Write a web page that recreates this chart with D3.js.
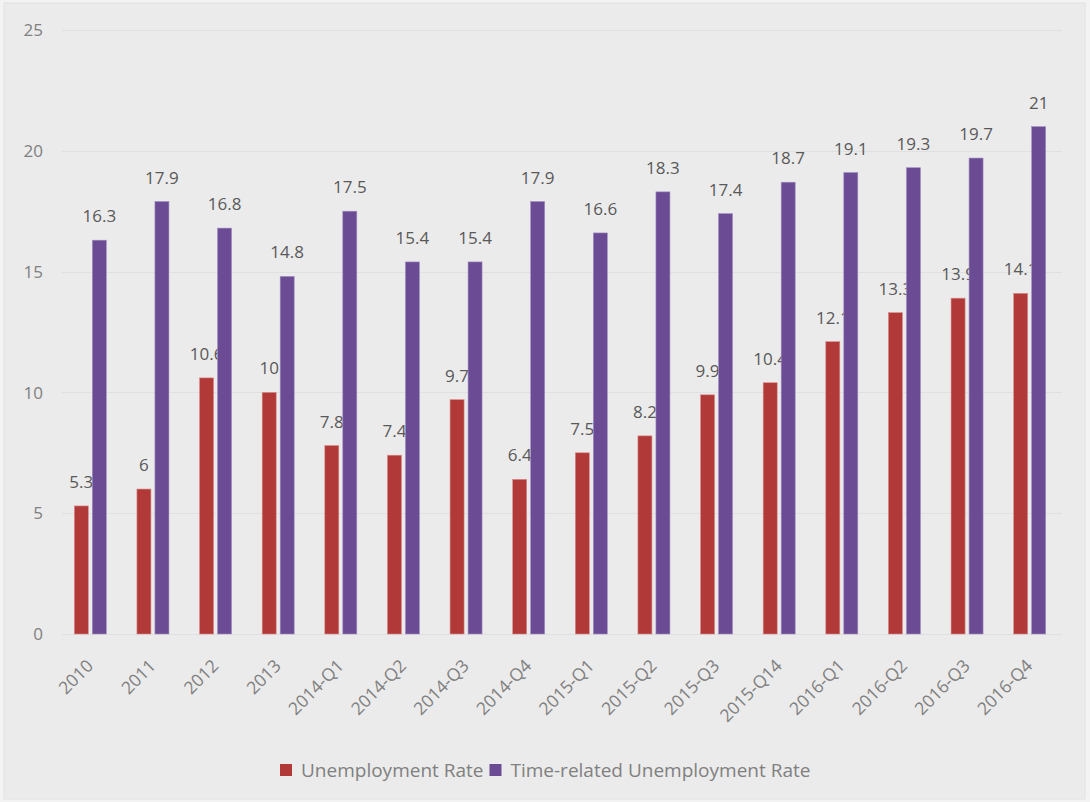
<!DOCTYPE html>
<html>
<head>
<meta charset="utf-8">
<script src="https://cdn.jsdelivr.net/npm/d3@7"></script>
<style>
  html, body { margin: 0; padding: 0; background: #f3f3f3; }
  svg { display: block; }
  text { font-family: "Open Sans", "Noto Sans", sans-serif; }
</style>
</head>
<body>
<svg id="chart" width="1090" height="802"></svg>
<script>
// Categories and series values
const categories = ["2010", "2011", "2012", "2013", "2014-Q1", "2014-Q2", "2014-Q3", "2014-Q4",
  "2015-Q1", "2015-Q2", "2015-Q3", "2015-Q14", "2016-Q1", "2016-Q2", "2016-Q3", "2016-Q4"];
const unemploymentRate = [5.3, 6, 10.6, 10, 7.8, 7.4, 9.7, 6.4, 7.5, 8.2, 9.9, 10.4, 12.1, 13.3, 13.9, 14.1];
const timeRelatedRate = [16.3, 17.9, 16.8, 14.8, 17.5, 15.4, 15.4, 17.9, 16.6, 18.3, 17.4, 18.7, 19.1, 19.3, 19.7, 21];
const yTicks = [0, 5, 10, 15, 20, 25];
const seriesNames = ["Unemployment Rate", "Time-related Unemployment Rate"];
const seriesColors = ["#b13a39", "#6b4c94"];

const svg = d3.select("#chart");
const W = 1090, H = 802;

// chart panel
svg.append("rect")
  .attr("x", 4).attr("y", 3).attr("width", W - 9).attr("height", H - 6)
  .attr("fill", "#ebebeb").attr("stroke", "#e2e2e2");

const plot = { left: 59, right: 1061, top: 30, bottom: 634 };

const x = d3.scaleBand().domain(categories).range([plot.left, plot.right]);
const y = d3.scaleLinear().domain([0, 25]).range([plot.bottom, plot.top]);

const barW = 14, gap = 2;

// gridlines
svg.append("g")
  .selectAll("line").data(yTicks).join("line")
  .attr("x1", 62).attr("x2", 1062)
  .attr("y1", d => Math.round(y(d)) + 0.5).attr("y2", d => Math.round(y(d)) + 0.5)
  .attr("stroke", "#e0e0e0").attr("stroke-width", 1);

// y axis labels
svg.append("g")
  .selectAll("text").data(yTicks).join("text")
  .attr("x", 43).attr("y", d => y(d))
  .attr("dy", "0.36em")
  .attr("text-anchor", "end")
  .attr("fill", "#808080")
  .attr("font-size", 17)
  .text(d => d);

const center = c => x(c) + x.bandwidth() / 2;

// unemployment rate bars and labels
const g1 = svg.append("g");
g1.selectAll("rect").data(categories).join("rect")
  .attr("x", c => center(c) - gap - barW)
  .attr("y", (c, i) => y(unemploymentRate[i]))
  .attr("width", barW)
  .attr("height", (c, i) => y(0) - y(unemploymentRate[i]))
  .attr("fill", seriesColors[0])
  .attr("stroke", "#d98a8a").attr("stroke-width", 0.6);
g1.selectAll("text").data(categories).join("text")
  .attr("x", c => center(c) - gap - barW / 2)
  .attr("y", (c, i) => y(unemploymentRate[i]) - 18)
  .attr("text-anchor", "middle")
  .attr("fill", "#595959")
  .attr("font-size", 17)
  .text((c, i) => unemploymentRate[i]);

// time-related unemployment rate bars and labels
const g2 = svg.append("g");
g2.selectAll("rect").data(categories).join("rect")
  .attr("x", c => center(c) + gap)
  .attr("y", (c, i) => y(timeRelatedRate[i]))
  .attr("width", barW)
  .attr("height", (c, i) => y(0) - y(timeRelatedRate[i]))
  .attr("fill", seriesColors[1])
  .attr("stroke", "#a08cc0").attr("stroke-width", 0.6);
g2.selectAll("text").data(categories).join("text")
  .attr("x", c => center(c) + gap + barW / 2)
  .attr("y", (c, i) => y(timeRelatedRate[i]) - 18)
  .attr("text-anchor", "middle")
  .attr("fill", "#595959")
  .attr("font-size", 17)
  .text((c, i) => timeRelatedRate[i]);

// category labels, rotated
svg.append("g")
  .selectAll("text").data(categories).join("text")
  .attr("transform", c => `translate(${center(c) + 4},${plot.bottom + 33}) rotate(-45)`)
  .attr("text-anchor", "end")
  .attr("fill", "#808080")
  .attr("font-size", 17.5)
  .text(c => c);

// legend
const legend = svg.append("g");
let lx = 280;
seriesNames.forEach((name, i) => {
  legend.append("rect")
    .attr("x", lx).attr("y", 764).attr("width", 12).attr("height", 12)
    .attr("fill", seriesColors[i]);
  const t = legend.append("text")
    .attr("x", lx + 21).attr("y", 777)
    .attr("fill", "#808080")
    .attr("font-size", 19)
    .text(name);
  lx += 21 + t.node().getComputedTextLength() + 6;
});
</script>
</body>
</html>
